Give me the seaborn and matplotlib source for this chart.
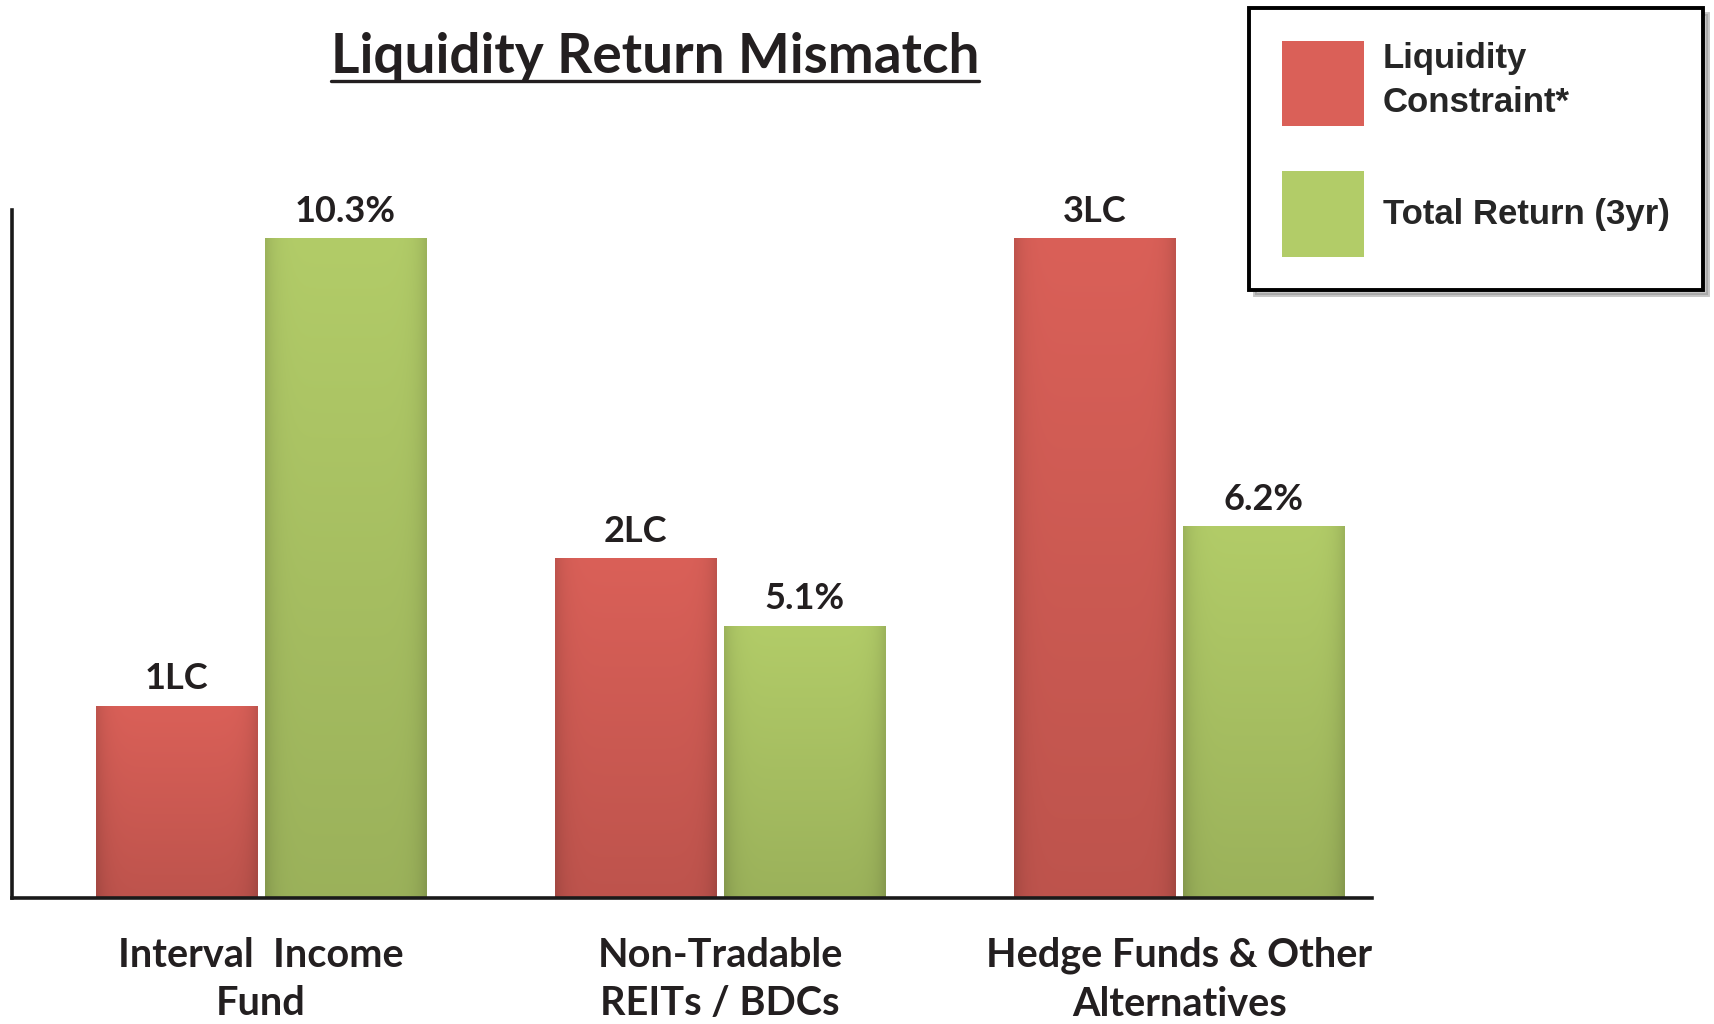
import numpy as np
import pandas as pd
import matplotlib
matplotlib.use("Agg")
import matplotlib.pyplot as plt
from matplotlib.lines import Line2D
from matplotlib.colors import to_rgb
import seaborn as sns

# %% data (bar heights as drawn, chart is illustrative)
categories = ["Interval  Income\nFund", "Non-Tradable\nREITs / BDCs", "Hedge Funds & Other\nAlternatives"]
series = ["Liquidity\nConstraint*", "Total Return (3yr)"]
liquidity_height = [3.0, 5.3, 10.3]
return_height = [10.3, 4.25, 5.8]
liquidity_labels = ["1LC", "2LC", "3LC"]
return_labels = ["10.3%", "5.1%", "6.2%"]

red = "#DA6058"
green = "#B2CC68"

df = pd.DataFrame({
    "category": categories * 2,
    "series": [series[0]] * 3 + [series[1]] * 3,
    "value": liquidity_height + return_height,
})

# %% figure
sns.set_style("white")
plt.rcParams["font.family"] = ["Lato", "DejaVu Sans"]

fig = plt.figure(figsize=(17.15, 10.24), dpi=100)
ax = fig.add_axes([12 / 1715, 126 / 1024, 1360 / 1715, 688 / 1024])

sns.barplot(data=df, x="category", y="value", hue="series", palette=[red, green],
            saturation=1, width=0.736, gap=0.047, linewidth=0, ax=ax)


def shade(patch, color):
    x, y = patch.get_x(), patch.get_y()
    w, h = patch.get_width(), patch.get_height()
    base = np.array(to_rgb(color))
    u = np.linspace(0, 1, 80)
    v = np.linspace(0, 1, 300)
    U, V = np.meshgrid(u, v)
    f = 0.87 + 0.13 * V - 0.12 * np.abs(2 * U - 1) ** 8
    img = np.clip(base[None, None, :] * f[..., None], 0, 1)
    ax.imshow(img, extent=(x, x + w, y, y + h), origin="lower", aspect="auto",
              zorder=patch.get_zorder() + 0.1, interpolation="bilinear", clip_path=patch)


for cont, col in zip(ax.containers, [red, green]):
    for p in cont.patches:
        shade(p, col)

label_font = dict(family="Lato", weight="bold", size=26, color="#231f20")
ax.bar_label(ax.containers[0], labels=liquidity_labels, padding=8, **label_font)
ax.bar_label(ax.containers[1], labels=return_labels, padding=8, **label_font)

ax.set_xlim(-0.542, 2.42)
ax.set_ylim(0, 10.75)
ax.set_yticks([])
ax.set_xlabel("")
ax.set_ylabel("")
ax.tick_params(axis="x", length=0, pad=28)
for t in ax.get_xticklabels():
    t.set_fontfamily("Lato")
    t.set_fontweight("bold")
    t.set_fontsize(28.5)
    t.set_color("#231f20")
    t.set_linespacing(1.38)

sns.despine(ax=ax, top=True, right=True)
for s in ["left", "bottom"]:
    ax.spines[s].set_linewidth(2.6)
    ax.spines[s].set_color("#1a1a1a")

# legend box top right
handles, labels = ax.get_legend_handles_labels()
ax.get_legend().remove()
leg = fig.legend(handles, labels, loc="upper left", bbox_to_anchor=(1249 / 1715, 1 - 8 / 1024),
                 bbox_transform=fig.transFigure, borderaxespad=0, frameon=True, fancybox=False,
                 handlelength=2.35, handleheight=3.4, labelspacing=1.3, borderpad=0.95,
                 handletextpad=0.55, shadow={"color": "0.55", "alpha": 0.5, "ox": 4, "oy": -4},
                 prop={"family": "Liberation Sans", "weight": "bold", "size": 25})
for t in leg.get_texts():
    t.set_linespacing(1.45)
leg.get_frame().set_edgecolor("black")
leg.get_frame().set_linewidth(2.8)

# underlined title
title = fig.text(655 / 1715, 1 - 73 / 1024, "Liquidity Return Mismatch", ha="center", va="baseline",
                 family="Lato", weight="bold", size=39.5, color="#231f20")
fig.canvas.draw()
bb = title.get_window_extent().transformed(fig.transFigure.inverted())
fig.add_artist(Line2D([bb.x0, bb.x1], [1 - 81 / 1024] * 2, color="#231f20", lw=2.4,
                      transform=fig.transFigure))

fig.savefig("out.png", dpi=100)
